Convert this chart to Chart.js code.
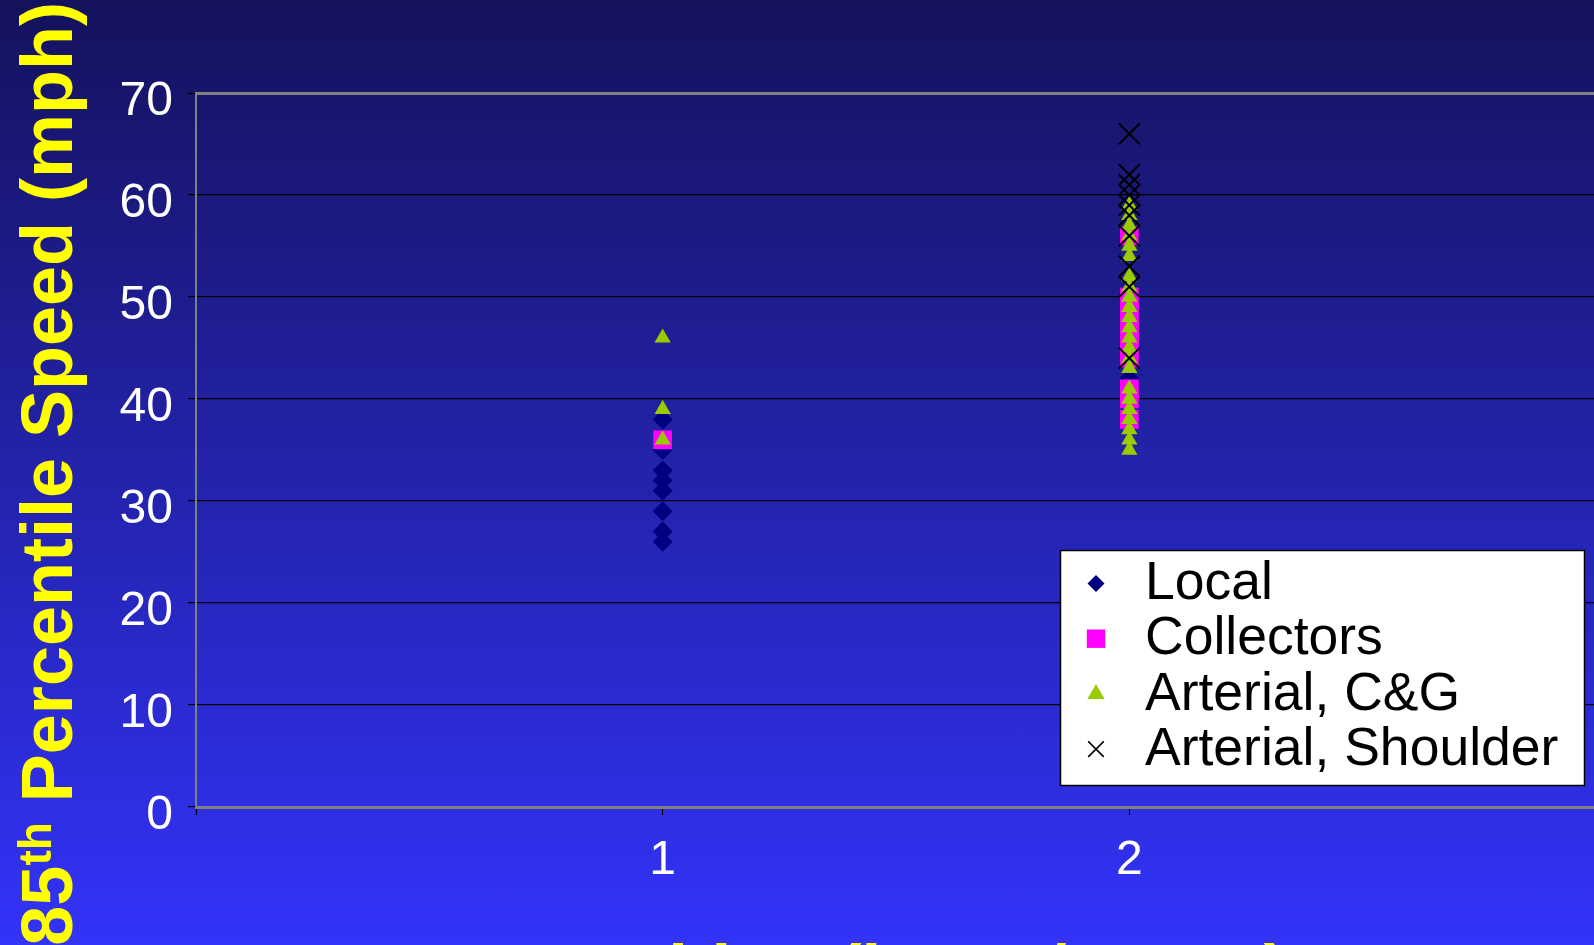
<!DOCTYPE html>
<html>
<head>
<meta charset="utf-8">
<script src="https://cdn.jsdelivr.net/npm/chart.js@4/dist/chart.umd.min.js"></script>
<style>
  html, body { margin: 0; padding: 0; overflow: hidden; }
  body { width: 1594px; height: 945px; background: linear-gradient(to bottom, #14125c 0%, #3333fa 100%); }
  #wrap { position: relative; width: 1594px; height: 945px; overflow: hidden; }
  canvas { display: block; }
</style>
</head>
<body>
<div id="wrap"><canvas id="speedChart" width="1596" height="945"></canvas></div>
<script>
// ---- data ----
const positionTicks = [0, 1, 2, 3];
const positionLabels = ['', '1', '2', ''];
const speedTicks = [0, 10, 20, 30, 40, 50, 60, 70];
const seriesNames = ['Local', 'Collectors', 'Arterial, C&G', 'Arterial, Shoulder'];

// 85th percentile speeds (mph) observed at position 1 and position 2
const localPos1 = [38, 35, 33, 32, 31, 29, 27, 26];
const localPos2 = [42];
const collectorsPos1 = [36];
const collectorsPos2 = [56, 50, 49, 48, 47, 46, 45, 44, 41, 40, 38];
const arterialCGPos1 = [46, 39, 36];
const arterialCGPos2 = [59, 58, 57, 56, 55, 54, 52, 51, 50, 49, 48, 47, 46, 45, 44, 43, 41, 40, 39, 38, 37, 36, 35];
const arterialShoulderPos1 = [];
const arterialShoulderPos2 = [66, 62, 61, 60, 59, 58, 56, 53, 51, 44];

const yTitleMain = 'Percentile Speed (mph)';
const yTitleNum = '85';
const yTitleSup = 'th';
const xTitle = 'Position (lower/upper)';

// ---- styling ----
const FONT = "'Liberation Sans', Arial, Helvetica, sans-serif";
const legendRadius = [8.5, 13, 10, 11];

function toPoints(pos1, pos2) {
  return pos1.map(v => ({ x: 1, y: v })).concat(pos2.map(v => ({ x: 2, y: v })));
}

const datasets = [
  { label: seriesNames[0], data: toPoints(localPos1, localPos2), pointStyle: 'rectRot',
    pointRadius: 10, backgroundColor: '#000080', borderColor: '#000080', borderWidth: 0, order: 4 },
  { label: seriesNames[1], data: toPoints(collectorsPos1, collectorsPos2), pointStyle: 'rect',
    pointRadius: 13.2, backgroundColor: '#ff00ff', borderColor: '#ff00ff', borderWidth: 0, order: 3 },
  { label: seriesNames[2], data: toPoints(arterialCGPos1, arterialCGPos2), pointStyle: 'triangle',
    pointRadius: 9.4, backgroundColor: '#99cc00', borderColor: '#99cc00', borderWidth: 0, order: 2 },
  { label: seriesNames[3], data: toPoints(arterialShoulderPos1, arterialShoulderPos2), pointStyle: 'crossRot',
    pointRadius: 15, backgroundColor: '#000000', borderColor: '#000000', borderWidth: 2, order: 1 }
];

// axis titles (with superscript ordinal) and the boxed legend
const decorations = {
  id: 'decorations',
  afterDraw(chart) {
    const ctx = chart.ctx;
    ctx.save();

    // vertical axis title, reading bottom to top
    ctx.fillStyle = '#ffff00';
    ctx.textBaseline = 'alphabetic';
    ctx.textAlign = 'left';
    const big = 'bold 72px ' + FONT;
    const small = 'bold 46px ' + FONT;
    ctx.font = big;
    const wNum = ctx.measureText(yTitleNum).width;
    const wMain = ctx.measureText(' ' + yTitleMain).width;
    ctx.font = small;
    const wSup = ctx.measureText(yTitleSup).width;
    const total = wNum + wSup + wMain;
    ctx.translate(72, 2);
    ctx.rotate(-Math.PI / 2);
    let x = -total;
    ctx.font = big;
    ctx.fillText(yTitleNum, x, 0);
    x += wNum;
    ctx.font = small;
    ctx.fillText(yTitleSup, x, -21);
    x += wSup;
    ctx.font = big;
    ctx.fillText(' ' + yTitleMain, x, 0);
    ctx.setTransform(1, 0, 0, 1, 0, 0);

    // horizontal axis title (runs off the bottom edge)
    ctx.font = 'bold 71px ' + FONT;
    ctx.fillText(xTitle, 538, 994);

    // legend
    const lx = 1060, ly = 550, lw = 524, lh = 235;
    ctx.fillStyle = '#ffffff';
    ctx.fillRect(lx, ly, lw, lh);
    ctx.strokeStyle = '#000000';
    ctx.lineWidth = 1.5;
    ctx.strokeRect(lx + 0.5, ly + 0.5, lw, lh);
    chart.data.datasets.forEach((ds, i) => {
      const cy = ly + 33.5 + i * 55.2;
      ctx.fillStyle = ds.backgroundColor;
      ctx.strokeStyle = ds.borderColor;
      ctx.lineWidth = i === 3 ? 1.6 : 0;
      Chart.helpers.drawPoint(ctx, {
        pointStyle: ds.pointStyle, radius: legendRadius[i], rotation: 0,
        borderWidth: i === 3 ? 1.6 : 0
      }, 1096, cy);
      ctx.fillStyle = '#000000';
      ctx.font = '53.5px ' + FONT;
      ctx.textBaseline = 'middle';
      ctx.fillText(ds.label, 1145, cy + 1);
    });
    ctx.restore();
  }
};

new Chart(document.getElementById('speedChart'), {
  type: 'scatter',
  data: { datasets },
  options: {
    responsive: false,
    animation: false,
    events: [],
    layout: { autoPadding: false, padding: { top: 93, right: 0, bottom: 0, left: 0 } },
    plugins: { legend: { display: false }, tooltip: { enabled: false } },
    scales: {
      x: {
        type: 'linear',
        min: positionTicks[0],
        max: positionTicks[positionTicks.length - 1],
        afterBuildTicks(scale) { scale.ticks = positionTicks.map(v => ({ value: v })); },
        afterFit(scale) {
          scale.height = 945 - 807;
          scale.paddingLeft = 0;
          scale.paddingRight = 0;
        },
        ticks: {
          color: '#ffffff',
          font: { family: FONT, size: 48 },
          padding: 17,
          maxRotation: 0,
          autoSkip: false,
          callback: (v) => positionLabels[positionTicks.indexOf(v)] ?? ''
        },
        grid: { drawOnChartArea: false, drawTicks: true, tickLength: 8, tickColor: '#000000', tickWidth: 1.2 },
        border: { display: true, color: '#808080', width: 3 }
      },
      y: {
        type: 'linear',
        min: speedTicks[0],
        max: speedTicks[speedTicks.length - 1],
        afterBuildTicks(scale) { scale.ticks = speedTicks.map(v => ({ value: v })); },
        afterFit(scale) { scale.width = 196; },
        ticks: {
          color: '#ffffff',
          font: { family: FONT, size: 48 },
          padding: 15,
          labelOffset: 9
        },
        grid: {
          drawTicks: true,
          tickLength: 8,
          tickColor: '#000000',
          tickWidth: 1.2,
          color: (c) => c.tick && c.tick.value === 70 ? '#808080' : (c.tick && c.tick.value === 0 ? 'rgba(0,0,0,0)' : '#000000'),
          lineWidth: (c) => c.tick && c.tick.value === 70 ? 3 : 1.2
        },
        border: { display: true, color: '#808080', width: 2 }
      }
    }
  },
  plugins: [decorations]
});
</script>
</body>
</html>
